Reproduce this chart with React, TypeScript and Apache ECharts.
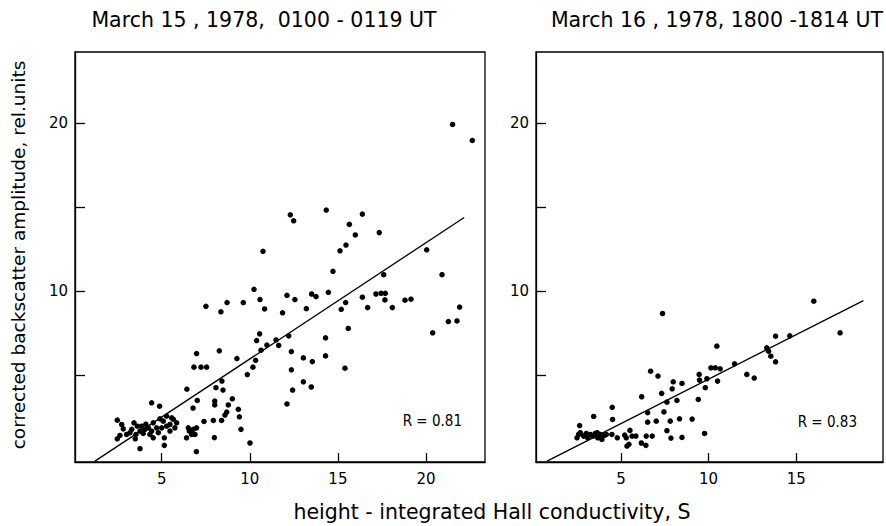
import React, { useEffect, useRef } from 'react';
import * as echarts from 'echarts';

const FONT_C = "'DejaVu Sans Condensed', 'Liberation Sans Narrow', 'DejaVu Sans', sans-serif";
const FONT = "'DejaVu Sans', sans-serif";

const leftTitle = 'March 15 , 1978,  0100 - 0119 UT';
const rightTitle = 'March 16 , 1978, 1800 -1814 UT';
const yAxisName = 'corrected backscatter amplitude, rel.units';
const xAxisName = 'height - integrated Hall conductivity, S';
const leftR = 'R = 0.81';
const rightR = 'R = 0.83';

const xTicksLeft = [5, 10, 15, 20];
const xTicksRight = [5, 10, 15];
const yTicks = [5, 10, 15, 20];
const yTickLabels = [10, 20];

const leftPoints: [number, number][] = [
  [21.51, 19.92], [22.63, 18.97],
  [12.3, 14.55], [12.49, 14.19], [14.34, 14.83], [16.39, 14.59], [15.65, 13.98], [15.99, 13.35],
  [17.35, 13.49], [15.46, 12.75], [15.12, 12.41], [10.75, 12.38], [20.04, 12.47], [14.72, 11.19],
  [20.91, 10.99], [17.6, 10.99],
  [10.24, 10.12], [12.11, 9.76], [12.56, 9.51], [10.58, 9.51], [13.51, 9.84], [13.76, 9.69],
  [14.46, 9.94], [16.39, 9.65], [17.16, 9.84], [17.45, 9.88], [17.69, 9.88], [17.67, 9.49],
  [18.81, 9.47], [19.15, 9.53], [18.09, 9.03], [16.69, 9.03], [15.44, 9.33], [15.19, 8.93],
  [13.21, 8.97], [10.84, 8.95], [9.63, 9.33], [8.71, 9.33], [8.36, 8.78], [7.51, 9.11],
  [11.86, 8.72], [21.91, 9.06], [21.27, 8.2], [21.76, 8.24], [20.38, 7.53], [15.59, 7.79],
  [10.56, 7.47], [10.39, 7.07], [12.21, 7.35], [11.49, 7.11], [10.97, 6.8], [11.64, 6.78],
  [10.64, 6.5], [14.3, 7.23], [8.27, 6.46], [6.98, 6.3], [12.36, 6.42], [13.04, 6.04],
  [13.55, 5.82], [14.3, 6.16], [9.27, 6.0], [10.33, 5.9], [6.83, 5.49], [7.23, 5.49],
  [7.55, 5.49], [10.18, 5.49], [12.36, 5.33], [15.4, 5.43], [9.86, 5.05], [8.42, 4.66],
  [13.04, 4.62], [8.08, 4.27], [8.48, 4.13], [12.43, 4.13], [13.49, 4.31], [6.43, 4.18],
  [9.01, 3.61], [7.02, 3.51], [8.01, 3.47], [8.78, 3.24], [8.01, 3.24], [12.11, 3.3],
  [6.78, 3.06], [8.69, 2.82], [9.35, 2.98], [8.59, 2.64], [9.41, 2.54], [8.4, 2.32],
  [7.93, 2.32], [7.4, 2.26], [9.5, 1.79], [7.99, 1.3], [10.01, 0.98], [6.97, 0.46],
  [4.43, 3.37], [4.88, 3.17], [2.48, 2.34], [2.73, 2.08], [2.82, 1.82], [2.63, 1.43],
  [2.48, 1.23], [3.3, 1.79], [3.43, 2.18], [3.62, 1.98], [3.77, 1.69], [3.54, 1.49],
  [3.5, 1.23], [3.86, 1.98], [3.77, 0.64], [4.24, 1.88], [4.43, 1.69], [4.52, 2.18],
  [4.71, 1.88], [4.81, 1.59], [4.52, 1.29], [4.9, 2.42], [5.09, 2.28], [5.28, 2.58],
  [5.47, 2.08], [5.66, 2.38], [5.75, 1.88], [5.47, 1.69], [5.15, 1.29], [5.15, 0.84],
  [6.41, 1.29], [6.57, 1.69], [6.7, 1.49], [6.89, 1.49], [6.98, 1.88],
  [3.01, 1.49], [3.2, 1.59], [4.05, 1.79], [4.33, 1.49], [5.28, 1.98], [5.57, 2.48],
  [5.85, 2.18], [5.0, 1.88], [6.51, 1.88], [6.79, 1.79], [4.1, 2.1], [3.95, 1.55],
];

const rightPoints: [number, number][] = [
  [16.0, 9.41], [17.5, 7.53], [7.37, 8.68], [13.82, 7.33], [14.63, 7.35], [13.32, 6.64],
  [13.42, 6.44], [13.55, 6.14], [13.82, 5.81], [10.47, 6.74], [11.48, 5.69], [10.13, 5.45],
  [10.38, 5.45], [10.66, 5.39], [12.18, 5.06], [12.6, 4.84], [9.46, 5.06], [9.48, 4.72],
  [9.9, 4.8], [10.51, 4.66], [9.81, 4.27], [6.69, 5.25], [7.11, 4.96], [7.98, 4.62],
  [8.48, 4.52], [7.92, 4.2], [7.32, 3.93], [7.62, 3.41], [8.19, 3.51], [9.41, 3.57],
  [6.18, 3.73], [6.52, 2.78], [7.45, 2.83], [4.5, 3.1], [4.52, 2.38], [3.44, 2.56],
  [6.52, 2.22], [7.01, 2.28], [7.81, 2.28], [8.34, 2.42], [9.06, 2.4], [7.62, 1.71],
  [9.77, 1.55], [6.44, 1.39], [6.78, 1.39], [7.85, 1.27], [8.48, 1.31], [6.16, 0.98],
  [6.42, 0.84], [5.34, 0.8], [5.45, 0.9], [5.21, 1.45], [5.51, 1.73], [5.63, 1.39],
  [5.85, 1.39], [5.3, 1.29], [4.48, 1.49], [4.79, 1.29],
  [2.64, 2.02], [2.49, 1.29], [2.58, 1.49], [2.68, 1.59], [2.87, 1.39], [3.1, 1.29],
  [3.25, 1.49], [3.4, 1.39], [3.53, 1.55], [3.67, 1.29], [3.82, 1.49], [3.91, 1.19],
  [4.05, 1.43], [4.16, 1.49], [3.02, 1.55], [3.64, 1.59],
];

const leftFit: [number, number][] = [[1.21, -0.1], [22.17, 14.39]];
const rightFit: [number, number][] = [[0.78, -0.1], [18.83, 9.45]];

const BLACK = '#000';

function xAxisCfg(gridIndex: number, min: number, max: number, ticks: number[]) {
  return {
    gridIndex,
    type: 'value',
    min,
    max,
    axisLine: { show: true, onZero: false, lineStyle: { color: BLACK, width: 1.3 } },
    axisTick: { show: true, inside: true, length: 9, customValues: ticks, lineStyle: { color: BLACK, width: 1.3 } },
    axisLabel: { customValues: ticks, color: BLACK, fontSize: 15, margin: 9, fontFamily: FONT },
    splitLine: { show: false },
  };
}

function yAxisCfg(gridIndex: number) {
  return {
    gridIndex,
    type: 'value',
    min: -0.15,
    max: 24.23,
    axisLine: { show: true, onZero: false, lineStyle: { color: BLACK, width: 1.3 } },
    axisTick: { show: true, inside: true, length: 10, customValues: yTicks, lineStyle: { color: BLACK, width: 1.3 } },
    axisLabel: { customValues: yTickLabels, color: BLACK, fontSize: 15, margin: 7, fontFamily: FONT },
    splitLine: { show: false },
  };
}

export default function App() {
  const ref = useRef<HTMLDivElement>(null);
  useEffect(() => {
    document.body.style.margin = '0';
    if (!ref.current) return;
    const chart = echarts.init(ref.current, undefined, { renderer: 'svg' });
    const textStyle = (size: number, family: string) => ({ fill: BLACK, fontSize: size, fontFamily: family });
    chart.setOption({
      animation: false,
      backgroundColor: '#fff',
      grid: [
        { left: 75, top: 52, width: 410, height: 410, show: true, borderColor: BLACK, borderWidth: 1.3 },
        { left: 536, top: 52, width: 347, height: 410, show: true, borderColor: BLACK, borderWidth: 1.3 },
      ],
      xAxis: [xAxisCfg(0, 0.08, 23.35, xTicksLeft), xAxisCfg(1, 0.15, 19.95, xTicksRight)],
      yAxis: [yAxisCfg(0), yAxisCfg(1)],
      series: [
        { type: 'scatter', xAxisIndex: 0, yAxisIndex: 0, data: leftPoints, symbolSize: 5.5, itemStyle: { color: BLACK, opacity: 1 } },
        { type: 'scatter', xAxisIndex: 1, yAxisIndex: 1, data: rightPoints, symbolSize: 5.5, itemStyle: { color: BLACK, opacity: 1 } },
        { type: 'line', xAxisIndex: 0, yAxisIndex: 0, data: leftFit, showSymbol: false, lineStyle: { color: BLACK, width: 1.3 } },
        { type: 'line', xAxisIndex: 1, yAxisIndex: 1, data: rightFit, showSymbol: false, lineStyle: { color: BLACK, width: 1.3 } },
      ],
      graphic: [
        { type: 'text', x: 264, y: 20, style: { ...textStyle(20.5, FONT), text: leftTitle, align: 'center', verticalAlign: 'middle' } },
        { type: 'text', x: 717, y: 20, style: { ...textStyle(20.5, FONT), text: rightTitle, align: 'center', verticalAlign: 'middle' } },
        { type: 'text', x: 18, y: 255, rotation: Math.PI / 2, style: { ...textStyle(18.5, FONT), text: yAxisName, align: 'center', verticalAlign: 'middle' } },
        { type: 'text', x: 492, y: 512, style: { ...textStyle(20.5, FONT), text: xAxisName, align: 'center', verticalAlign: 'middle' } },
        { type: 'text', x: 462, y: 421, style: { ...textStyle(15, FONT_C), text: leftR, align: 'right', verticalAlign: 'middle' } },
        { type: 'text', x: 857, y: 422, style: { ...textStyle(15, FONT_C), text: rightR, align: 'right', verticalAlign: 'middle' } },
      ],
    });
    return () => chart.dispose();
  }, []);
  return <div ref={ref} style={{ width: 886, height: 526 }} />;
}
